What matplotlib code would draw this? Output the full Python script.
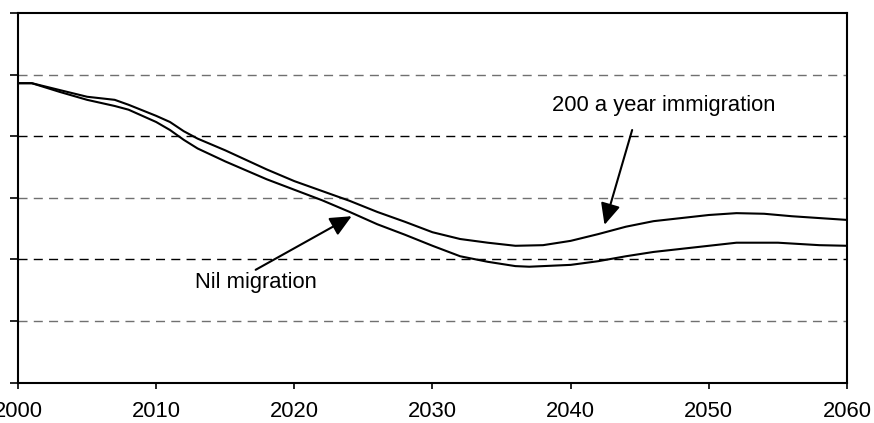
import matplotlib
matplotlib.use("Agg")
import matplotlib.pyplot as plt

plt.rcParams['font.family'] = ['Liberation Sans', 'DejaVu Sans']

# projection years and two scenarios (y units unlabeled in the source)
years_imm = [2000, 2001, 2003, 2005, 2007, 2008, 2010, 2011, 2012, 2013, 2015, 2018,
             2020, 2022, 2024, 2026, 2028, 2030, 2032, 2034, 2036, 2038,
             2040, 2042, 2044, 2046, 2048, 2050, 2052, 2054, 2056, 2058, 2060]
imm_200 = [4.86, 4.86, 4.75, 4.64, 4.59, 4.51, 4.33, 4.23, 4.08, 3.96, 3.77, 3.46,
           3.27, 3.11, 2.95, 2.77, 2.61, 2.44, 2.33, 2.27, 2.22, 2.23,
           2.30, 2.41, 2.53, 2.62, 2.67, 2.72, 2.75, 2.74, 2.70, 2.67, 2.64]

years_nil = [2000, 2001, 2003, 2005, 2007, 2008, 2010, 2011, 2012, 2013, 2015, 2018,
             2020, 2022, 2024, 2026, 2028, 2030, 2032, 2034, 2036, 2037,
             2040, 2042, 2044, 2046, 2048, 2050, 2052, 2055, 2058, 2060]
nil_mig = [4.86, 4.86, 4.72, 4.59, 4.49, 4.43, 4.23, 4.10, 3.94, 3.80, 3.59, 3.30,
           3.13, 2.96, 2.77, 2.57, 2.40, 2.22, 2.05, 1.96, 1.89, 1.88,
           1.91, 1.97, 2.05, 2.12, 2.17, 2.22, 2.27, 2.27, 2.23, 2.22]

x_ticks = [2000, 2010, 2020, 2030, 2040, 2050, 2060]
y_ticks = [0, 1, 2, 3, 4, 5, 6]

fig = plt.figure(figsize=(8.74, 4.23), dpi=100)
ax = fig.add_axes([18 / 874, 1 - 382.5 / 423, 829 / 874, 369.5 / 423])

# dashed gridlines, alternating grey / black like the source rendering
for i, yv in enumerate(y_ticks[1:-1]):
    ax.axhline(yv, color='#707070' if i % 2 == 0 else 'black', lw=1,
               dashes=(6.5, 4.5), zorder=1)

ax.plot(years_imm, imm_200, color='black', lw=1.5, zorder=3)
ax.plot(years_nil, nil_mig, color='black', lw=1.5, zorder=3)

ax.set_xlim(2000, 2060)
ax.set_ylim(0, 6)
ax.set_xticks(x_ticks)
ax.set_yticks(y_ticks)
ax.set_yticklabels([])
ax.tick_params(axis='x', direction='out', length=4.5, width=1.2, labelsize=15.8, pad=9)
ax.tick_params(axis='y', direction='out', length=5.8, width=1.2)
for s in ax.spines.values():
    s.set_linewidth(1.5)

arrow = dict(arrowstyle='-|>,head_length=0.65,head_width=0.3', color='black',
             lw=1.5, shrinkA=0, shrinkB=0, mutation_scale=20)
ax.annotate('', xy=(2024.15, 2.70), xytext=(2017.2, 1.83), arrowprops=arrow, zorder=4)
ax.text(2017.2, 1.63, 'Nil migration', fontsize=15.8, ha='center', va='center')

ax.annotate('', xy=(2042.45, 2.56), xytext=(2044.45, 4.10), arrowprops=arrow, zorder=4)
ax.text(2046.75, 4.49, '200 a year immigration', fontsize=15.8, ha='center', va='center')

fig.savefig('out.png', dpi=100)
